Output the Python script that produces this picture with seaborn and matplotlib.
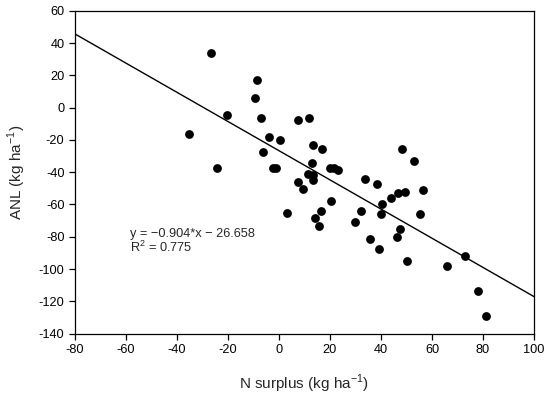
import matplotlib
matplotlib.use("Agg")
import numpy as np
import pandas as pd
import matplotlib.pyplot as plt
import seaborn as sns

# Data
n_surplus = [-35.2, -26.5, -24.3, -20.4, -9.5, -8.6, -7.1, -6.4, -3.7, 0.4,
             -2.3, -1.2, 3.3, 7.5, 7.6, 9.3, 11.3, 11.9, 12.8, 13.2,
             13.2, 13.5, 14.2, 15.7, 16.6, 16.7, 20.0, 20.3, 21.7, 23.3,
             29.9, 32.0, 33.7, 35.8, 38.5, 39.3, 40.0, 40.5, 43.9, 46.4,
             46.5, 47.6, 48.1, 49.4, 50.3, 52.9, 55.3, 56.3, 65.8, 72.9,
             78.2, 81.1]
anl = [-16.3, 34.0, -37.6, -4.6, 6.1, 17.3, -6.6, -27.5, -18.4, -20.1,
       -37.2, -37.2, -65.1, -7.7, -45.9, -50.4, -41.1, -6.3, -34.5, -23.2,
       -44.8, -41.7, -68.4, -73.5, -64.0, -25.4, -37.2, -58.0, -37.2, -38.6,
       -71.0, -64.0, -44.4, -81.4, -47.1, -87.7, -66.1, -59.9, -56.2, -80.1,
       -53.1, -75.4, -25.6, -52.4, -94.8, -32.9, -66.1, -51.0, -98.1, -91.7,
       -113.4, -128.9]

slope = -0.904
intercept = -26.658
r2 = 0.775
fit_x = [-80, 100]

x_ticks = list(range(-80, 101, 20))
y_ticks = list(range(-140, 61, 20))

df = pd.DataFrame({"n_surplus": n_surplus, "anl": anl})
fit = pd.DataFrame({"x": fit_x, "y": [slope * v + intercept for v in fit_x]})

sns.set_style("ticks")
plt.rcParams["font.family"] = ["Liberation Sans", "DejaVu Sans"]
plt.rcParams["axes.unicode_minus"] = False
plt.rcParams["mathtext.fontset"] = "custom"
plt.rcParams["mathtext.rm"] = "Liberation Sans"

fig = plt.figure(figsize=(5.5, 3.98), dpi=100)
ax = fig.add_axes([0.136, 0.1616, 0.835, 0.8115])

sns.lineplot(data=fit, x="x", y="y", ax=ax, color="black", linewidth=1.0)
sns.scatterplot(data=df, x="n_surplus", y="anl", ax=ax, color="black",
                s=40, edgecolor="black", linewidth=0, zorder=3)

ax.set_xlim(-80, 100)
ax.set_ylim(-140, 60)
ax.set_xticks(x_ticks)
ax.set_yticks(y_ticks)
ax.tick_params(axis="both", direction="out", length=4, width=0.9,
               labelsize=9.2, color="black", labelcolor="black")
for sp in ax.spines.values():
    sp.set_visible(True)
    sp.set_linewidth(0.9)
    sp.set_color("black")

ax.set_xlabel(r"N surplus (kg ha$^{\mathregular{-1}}$)", fontsize=11, labelpad=12)
ax.set_ylabel(r"ANL (kg ha$^{\mathregular{-1}}$)", fontsize=11, labelpad=8)

ax.text(-58.5, -78.5, "y = \u22120.904*x \u2212 26.658", fontsize=9.2, va="center", ha="left")
ax.text(-58.5, -86.5, r"R$^{\mathregular{2}}$ = 0.775", fontsize=9.2, va="center", ha="left")

fig.savefig("out.png", dpi=100)
